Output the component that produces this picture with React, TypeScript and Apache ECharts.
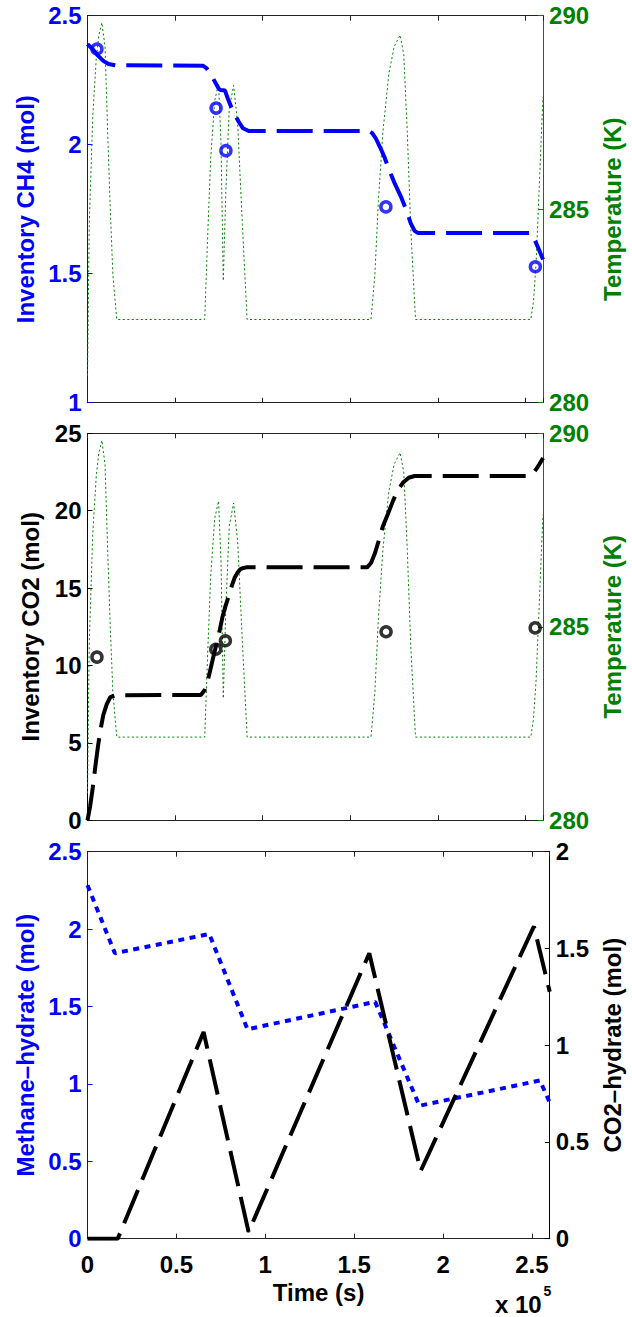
import React, { useEffect, useRef } from 'react';
import * as echarts from 'echarts';

const FONT = '"Liberation Sans", Arial, Helvetica, sans-serif';
const BLUE = '#0000ff';
const GREEN = '#008000';
const BLACK = '#000000';
const AXIS_GRAY = '#222222';

// ---------- Data (time in units of 1e5 s) ----------
// Panel 1: CH4 inventory (mol)
const ch4Time = [0, 0.03, 0.06, 0.09, 0.12, 0.16, 0.66, 0.68, 0.71, 0.75, 0.76, 0.785, 0.8, 0.83, 0.863, 0.887, 0.92, 1.607, 1.625, 1.645, 1.67, 1.693, 1.72, 1.75, 1.788, 1.82, 1.845, 1.867, 1.885, 2.534, 2.55, 2.568, 2.6];
const ch4Inv = [2.39, 2.37, 2.345, 2.325, 2.313, 2.308, 2.306, 2.296, 2.265, 2.216, 2.212, 2.21, 2.18, 2.13, 2.089, 2.064, 2.053, 2.053, 2.045, 2.025, 1.99, 1.955, 1.905, 1.855, 1.8, 1.745, 1.695, 1.666, 1.658, 1.658, 1.635, 1.607, 1.555];
// Measured CH4 inventory (circles)
const ch4MeasTime = [0.054, 0.734, 0.79, 1.703, 2.556];
const ch4Meas = [2.371, 2.142, 1.977, 1.759, 1.527];

// Panel 2: CO2 inventory (mol)
const co2Time = [0, 0.015, 0.03, 0.045, 0.06, 0.075, 0.09, 0.11, 0.13, 0.16, 0.647, 0.669, 0.692, 0.715, 0.737, 0.755, 0.771, 0.788, 0.805, 0.822, 0.839, 0.856, 0.873, 0.89, 0.906, 1.596, 1.618, 1.641, 1.663, 1.686, 1.715, 1.743, 1.77, 1.8, 1.833, 1.867, 2.511, 2.53, 2.545, 2.562, 2.579, 2.6];
const co2Inv = [0, 0.9, 2.1, 3.5, 4.8, 5.9, 6.8, 7.5, 7.95, 8.08, 8.1, 8.42, 9.28, 10.4, 11.44, 12.3, 13.17, 13.85, 14.46, 15.1, 15.65, 16.0, 16.23, 16.3, 16.34, 16.34, 16.62, 17.27, 18.1, 19.0, 19.8, 20.62, 21.3, 21.8, 22.13, 22.24, 22.24, 22.3, 22.45, 22.7, 23.0, 23.4];
// Measured CO2 inventory (circles)
const co2MeasTime = [0.054, 0.732, 0.787, 1.704, 2.555];
const co2Meas = [10.54, 11.05, 11.6, 12.18, 12.43];

// Temperature (K), shared by panels 1 and 2
const tempTime = [0, 0.01, 0.03, 0.05, 0.065, 0.082, 0.1, 0.115, 0.13, 0.145, 0.167, 0.669, 0.685, 0.703, 0.726, 0.748, 0.762, 0.775, 0.789, 0.809, 0.834, 0.857, 0.884, 0.911, 1.618, 1.64, 1.66, 1.686, 1.72, 1.75, 1.784, 1.805, 1.825, 1.845, 1.872, 2.53, 2.545, 2.56, 2.575, 2.59, 2.6];
const tempK = [280.7, 284.6, 287.4, 288.9, 289.5, 289.82, 289.2, 287.0, 285.0, 283.3, 282.15, 282.15, 284.2, 286.3, 287.8, 288.25, 286.7, 283.15, 285.4, 287.6, 288.2, 287.2, 284.6, 282.15, 282.15, 283.3, 285.2, 287.0, 288.5, 289.2, 289.5, 289.0, 287.0, 284.5, 282.15, 282.15, 282.6, 283.6, 285.2, 286.9, 287.9];

// Panel 3: hydrates (mol)
const ch4HydTime = [0, 0.154, 0.685, 0.9, 1.618, 1.867, 2.545, 2.6];
const ch4Hyd = [2.283, 1.844, 1.968, 1.353, 1.53, 0.859, 1.022, 0.88];
const co2HydTime = [0, 0.17, 0.653, 0.906, 1.585, 1.874, 2.511, 2.6];
const co2Hyd = [0, 0, 1.068, 0.035, 1.475, 0.35, 1.614, 1.276];

// Axis tick settings
const xTicks = { min: 0, max: 2.6, interval: 0.5 };
const ch4Axis = { min: 1, max: 2.5, interval: 0.5 };
const tempAxis = { min: 280, max: 290, interval: 5 };
const co2Axis = { min: 0, max: 25, interval: 5 };
const ch4HydAxis = { min: 0, max: 2.5, interval: 0.5 };
const co2HydAxis = { min: 0, max: 2, interval: 0.5 };

// ---------- Layout ----------
const GRID_LEFT = 87.5;
const GRID_WIDTH = 465;
const GRID_HEIGHT = 387;
const GRID_TOPS = [15.7, 433.3, 851.7];

const zip = (xs: number[], ys: number[]) => xs.map((x, i) => [x, ys[i]]);

const textStyle = (color: string, size = 24) => ({
  color,
  fontFamily: FONT,
  fontWeight: 'bold' as const,
  fontSize: size,
});

function xAxes(gridIndex: number, showLabels: boolean) {
  const base = {
    type: 'value',
    gridIndex,
    ...xTicks,
    splitLine: { show: false },
    axisLine: { show: true, onZero: false, lineStyle: { color: AXIS_GRAY, width: 1 } },
    axisTick: { show: true, inside: true, length: 5, lineStyle: { color: AXIS_GRAY, width: 1 } },
  };
  return [
    {
      ...base,
      position: 'bottom',
      axisLabel: {
        show: showLabels,
        margin: 14,
        showMaxLabel: false,
        ...textStyle(BLACK),
        formatter: (v: number) => String(Math.round(v * 10) / 10),
      },
      name: showLabels ? 'Time (s)' : '',
      nameLocation: 'middle',
      nameGap: 42,
      nameTextStyle: textStyle(BLACK),
    },
    { ...base, position: 'top', axisLabel: { show: false } },
  ];
}

function yAxis(
  gridIndex: number,
  position: 'left' | 'right',
  range: { min: number; max: number; interval: number },
  color: string,
  name: string,
  nameGap: number,
) {
  return {
    type: 'value',
    gridIndex,
    position,
    ...range,
    splitLine: { show: false },
    axisLine: { show: true, onZero: false, lineStyle: { color, width: 1 } },
    axisTick: { show: true, inside: true, length: 5, lineStyle: { color, width: 1 } },
    axisLabel: { margin: 6, ...textStyle(color) },
    name,
    nameLocation: 'middle',
    nameGap,
    nameTextStyle: textStyle(color),
  };
}

const tempLine = (xAxisIndex: number, yAxisIndex: number) => ({
  type: 'line',
  xAxisIndex,
  yAxisIndex,
  data: zip(tempTime, tempK),
  symbol: 'none',
  lineStyle: { color: GREEN, width: 1, type: [2, 2.5] },
  z: 2,
});

const dashedLine = (xAxisIndex: number, yAxisIndex: number, data: number[][], color: string) => ({
  type: 'line',
  xAxisIndex,
  yAxisIndex,
  data,
  symbol: 'none',
  lineStyle: { color, width: 4, type: [36, 11] },
  z: 3,
});

const circles = (xAxisIndex: number, yAxisIndex: number, data: number[][], color: string) => ({
  type: 'scatter',
  xAxisIndex,
  yAxisIndex,
  data,
  symbol: 'circle',
  symbolSize: 10,
  itemStyle: { color: 'rgba(0,0,0,0)', borderColor: color, borderWidth: 3.5 },
  z: 4,
});

export default function App() {
  const ref = useRef<HTMLDivElement>(null);

  useEffect(() => {
    if (!ref.current) return;
    const chart = echarts.init(ref.current, undefined, { renderer: 'svg' });
    const option = {
      animation: false,
      backgroundColor: '#ffffff',
      grid: GRID_TOPS.map((top) => ({
        left: GRID_LEFT,
        top,
        width: GRID_WIDTH,
        height: GRID_HEIGHT,
        containLabel: false,
      })),
      xAxis: [...xAxes(0, false), ...xAxes(1, false), ...xAxes(2, true)],
      yAxis: [
        yAxis(0, 'left', ch4Axis, BLUE, 'Inventory CH4 (mol)', 49),
        yAxis(0, 'right', tempAxis, GREEN, 'Temperature (K)', 54),
        yAxis(1, 'left', co2Axis, BLACK, 'Inventory CO2 (mol)', 45),
        yAxis(1, 'right', tempAxis, GREEN, 'Temperature (K)', 54),
        yAxis(2, 'left', ch4HydAxis, BLUE, 'Methane–hydrate (mol)', 50),
        yAxis(2, 'right', co2HydAxis, BLACK, 'CO2–hydrate (mol)', 48),
      ],
      series: [
        tempLine(0, 1),
        dashedLine(0, 0, zip(ch4Time, ch4Inv), BLUE),
        circles(0, 0, zip(ch4MeasTime, ch4Meas), BLUE),
        tempLine(2, 3),
        dashedLine(2, 2, zip(co2Time, co2Inv), BLACK),
        circles(2, 2, zip(co2MeasTime, co2Meas), BLACK),
        {
          type: 'line',
          xAxisIndex: 4,
          yAxisIndex: 4,
          data: zip(ch4HydTime, ch4Hyd),
          symbol: 'none',
          lineStyle: { color: BLUE, width: 4, type: [6, 5.5] },
          z: 3,
        },
        dashedLine(4, 5, zip(co2HydTime, co2Hyd), BLACK),
      ],
      graphic: [
        {
          type: 'text',
          x: 495,
          y: 1304,
          style: {
            text: 'x 10',
            fill: BLACK,
            fontFamily: FONT,
            fontWeight: 'bold',
            fontSize: 24,
            lineHeight: 20,
            align: 'left',
            verticalAlign: 'middle',
          },
        },
        {
          type: 'text',
          x: 543.5,
          y: 1291,
          style: {
            text: '5',
            fill: BLACK,
            fontFamily: FONT,
            fontWeight: 'bold',
            fontSize: 14,
            align: 'left',
            verticalAlign: 'middle',
          },
        },
      ],
    };
    chart.setOption(option as any);
    return () => chart.dispose();
  }, []);

  return (
    <div
      ref={ref}
      style={{ position: 'absolute', left: 0, top: 0, width: 632, height: 1317, background: '#fff' }}
    />
  );
}
